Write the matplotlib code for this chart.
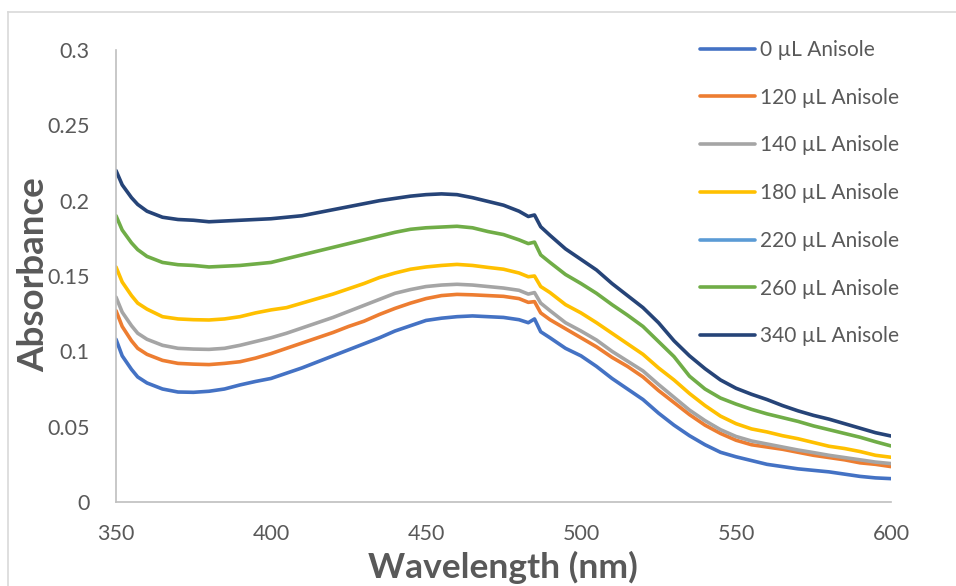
import matplotlib
matplotlib.use("Agg")
import matplotlib.pyplot as plt
from matplotlib.lines import Line2D

plt.rcParams['font.family'] = ['Lato', 'DejaVu Sans']

# Wavelength grid (nm)
wavelength = [350, 352, 355, 357, 360, 365, 370, 375, 380, 385, 390, 395,
              400, 405, 410, 415, 420, 425, 430, 435, 440, 445,
              450, 455, 460, 465, 470, 475, 480, 483, 485, 487,
              490, 495, 500, 505, 510, 515, 520, 525, 530, 535,
              540, 545, 550, 555, 560, 565, 570, 575, 580, 585,
              590, 595, 600]

abs_0 = [0.108, 0.097, 0.088, 0.083, 0.079, 0.075, 0.073, 0.0728, 0.0735, 0.075, 0.0777, 0.080,
         0.082, 0.0855, 0.089, 0.093, 0.097, 0.101, 0.105, 0.109, 0.1135, 0.117,
         0.1205, 0.122, 0.123, 0.1235, 0.123, 0.1225, 0.121, 0.119, 0.1215, 0.113,
         0.109, 0.102, 0.097, 0.090, 0.082, 0.075, 0.068, 0.059, 0.051, 0.044,
         0.038, 0.033, 0.030, 0.0275, 0.025, 0.0235, 0.022, 0.021, 0.020, 0.0185,
         0.017, 0.016, 0.0155]

abs_120 = [0.127, 0.1165, 0.107, 0.102, 0.098, 0.094, 0.092, 0.0915, 0.0912, 0.092, 0.0931, 0.0955,
           0.0985, 0.102, 0.1055, 0.109, 0.1125, 0.1165, 0.120, 0.1245, 0.1285, 0.132,
           0.135, 0.137, 0.1378, 0.1375, 0.137, 0.1365, 0.135, 0.1325, 0.133, 0.1255,
           0.121, 0.115, 0.109, 0.103, 0.096, 0.090, 0.083, 0.074, 0.066, 0.058,
           0.051, 0.0455, 0.041, 0.038, 0.0365, 0.035, 0.033, 0.031, 0.0295, 0.028,
           0.026, 0.025, 0.0235]

abs_140 = [0.136, 0.126, 0.117, 0.112, 0.108, 0.104, 0.102, 0.1015, 0.1013, 0.102, 0.104, 0.1065,
           0.109, 0.112, 0.1155, 0.119, 0.1225, 0.1265, 0.1305, 0.1345, 0.1385, 0.141,
           0.143, 0.144, 0.1445, 0.144, 0.143, 0.142, 0.1405, 0.138, 0.139, 0.132,
           0.127, 0.119, 0.1135, 0.1075, 0.100, 0.0935, 0.087, 0.078, 0.0695, 0.061,
           0.054, 0.048, 0.0435, 0.0405, 0.0385, 0.0365, 0.0345, 0.0328, 0.031, 0.0295,
           0.028, 0.0265, 0.0255]

abs_180 = [0.156, 0.146, 0.137, 0.132, 0.128, 0.123, 0.1215, 0.121, 0.1208, 0.1215, 0.123, 0.1255,
           0.1275, 0.129, 0.132, 0.135, 0.138, 0.1415, 0.145, 0.149, 0.152, 0.1545,
           0.156, 0.157, 0.1577, 0.157, 0.1557, 0.1545, 0.152, 0.1495, 0.150, 0.143,
           0.139, 0.131, 0.1255, 0.119, 0.112, 0.105, 0.098, 0.089, 0.081, 0.072,
           0.064, 0.057, 0.052, 0.0485, 0.0465, 0.044, 0.042, 0.0395, 0.037, 0.0355,
           0.0335, 0.031, 0.0297]

abs_220 = []

abs_260 = [0.190, 0.1805, 0.172, 0.1675, 0.163, 0.159, 0.1575, 0.157, 0.156, 0.1565, 0.157, 0.158,
           0.159, 0.1615, 0.164, 0.1665, 0.169, 0.1715, 0.174, 0.1765, 0.179, 0.181,
           0.182, 0.1825, 0.183, 0.182, 0.1795, 0.1775, 0.174, 0.1715, 0.1725, 0.164,
           0.159, 0.151, 0.145, 0.1385, 0.131, 0.124, 0.1165, 0.1065, 0.0965, 0.0835,
           0.075, 0.069, 0.065, 0.0615, 0.0585, 0.056, 0.0535, 0.0505, 0.048, 0.0455,
           0.043, 0.040, 0.0372]

abs_340 = [0.220, 0.2105, 0.202, 0.1975, 0.193, 0.189, 0.1875, 0.187, 0.186, 0.1865, 0.187, 0.1875,
           0.188, 0.189, 0.190, 0.192, 0.194, 0.196, 0.198, 0.200, 0.2015, 0.203,
           0.204, 0.2045, 0.204, 0.202, 0.1995, 0.197, 0.193, 0.1895, 0.1905, 0.1827,
           0.177, 0.168, 0.161, 0.154, 0.145, 0.137, 0.129, 0.119, 0.107, 0.097,
           0.0885, 0.081, 0.0755, 0.0715, 0.068, 0.064, 0.0605, 0.0575, 0.055, 0.052,
           0.049, 0.046, 0.0438]

labels = ['0 µL Anisole', '120 µL Anisole', '140 µL Anisole', '180 µL Anisole',
          '220 µL Anisole', '260 µL Anisole', '340 µL Anisole']
series = [abs_0, abs_120, abs_140, abs_180, abs_220, abs_260, abs_340]
colors = ['#4472C4', '#ED7D31', '#A5A5A5', '#FFC000', '#5B9BD5', '#70AD47', '#264478']

x_ticks = [350, 400, 450, 500, 550, 600]
y_ticks = [0, 0.05, 0.1, 0.15, 0.2, 0.25, 0.3]
y_tick_labels = ['0', '0.05', '0.1', '0.15', '0.2', '0.25', '0.3']

W, H = 956, 586
fig = plt.figure(figsize=(W / 100, H / 100), dpi=100)

# chart-area border (top and left edges)
border_col = '#D9D9D9'
fig.add_artist(Line2D([8 / W, 1], [1 - 12 / H, 1 - 12 / H], color=border_col, lw=1.2,
                      transform=fig.transFigure))
fig.add_artist(Line2D([8 / W, 8 / W], [0, 1 - 12 / H], color=border_col, lw=1.2,
                      transform=fig.transFigure))

ax = fig.add_axes([116 / W, 1 - 502 / H, (891 - 116) / W, (502 - 50) / H])

handles = []
for ys, lab, col in zip(series, labels, colors):
    xs = wavelength[:len(ys)]
    h, = ax.plot(xs, ys, color=col, lw=2.6, label=lab, solid_capstyle='round',
                 solid_joinstyle='round')
    handles.append(h)

ax.set_xlim(350, 600)
ax.set_ylim(0, 0.3)
ax.set_xticks(x_ticks)
ax.set_xticklabels([str(v) for v in x_ticks])
ax.set_yticks(y_ticks)
ax.set_yticklabels(y_tick_labels)

text_col = '#595959'
ax.tick_params(axis='both', length=0, labelsize=15.5, colors=text_col)
ax.tick_params(axis='y', pad=19)
ax.tick_params(axis='x', pad=16)

for side in ['top', 'right']:
    ax.spines[side].set_visible(False)
for side in ['left', 'bottom']:
    ax.spines[side].set_color('#BFBFBF')
    ax.spines[side].set_linewidth(1.2)

ax.set_xlabel('Wavelength (nm)', fontsize=25.5, fontweight='bold', color=text_col)
ax.set_ylabel('Absorbance', fontsize=26.5, fontweight='bold', color=text_col)
ax.xaxis.set_label_coords((503 - 116) / (891 - 116), -(567 - 502) / (502 - 50))
ax.yaxis.set_label_coords(-(116 - 34) / (891 - 116), (502 - 275) / (502 - 50))
ax.xaxis.label.set_va('center')
ax.yaxis.label.set_va('center')

fig.legend(handles=handles, labels=labels, loc='upper left',
           bbox_to_anchor=(700 / W, 1 - 40 / H), frameon=False,
           fontsize=15, handlelength=2.65, handletextpad=0.25,
           labelspacing=1.33, borderpad=0, borderaxespad=0,
           labelcolor=text_col)

fig.savefig('out.png', dpi=100)
